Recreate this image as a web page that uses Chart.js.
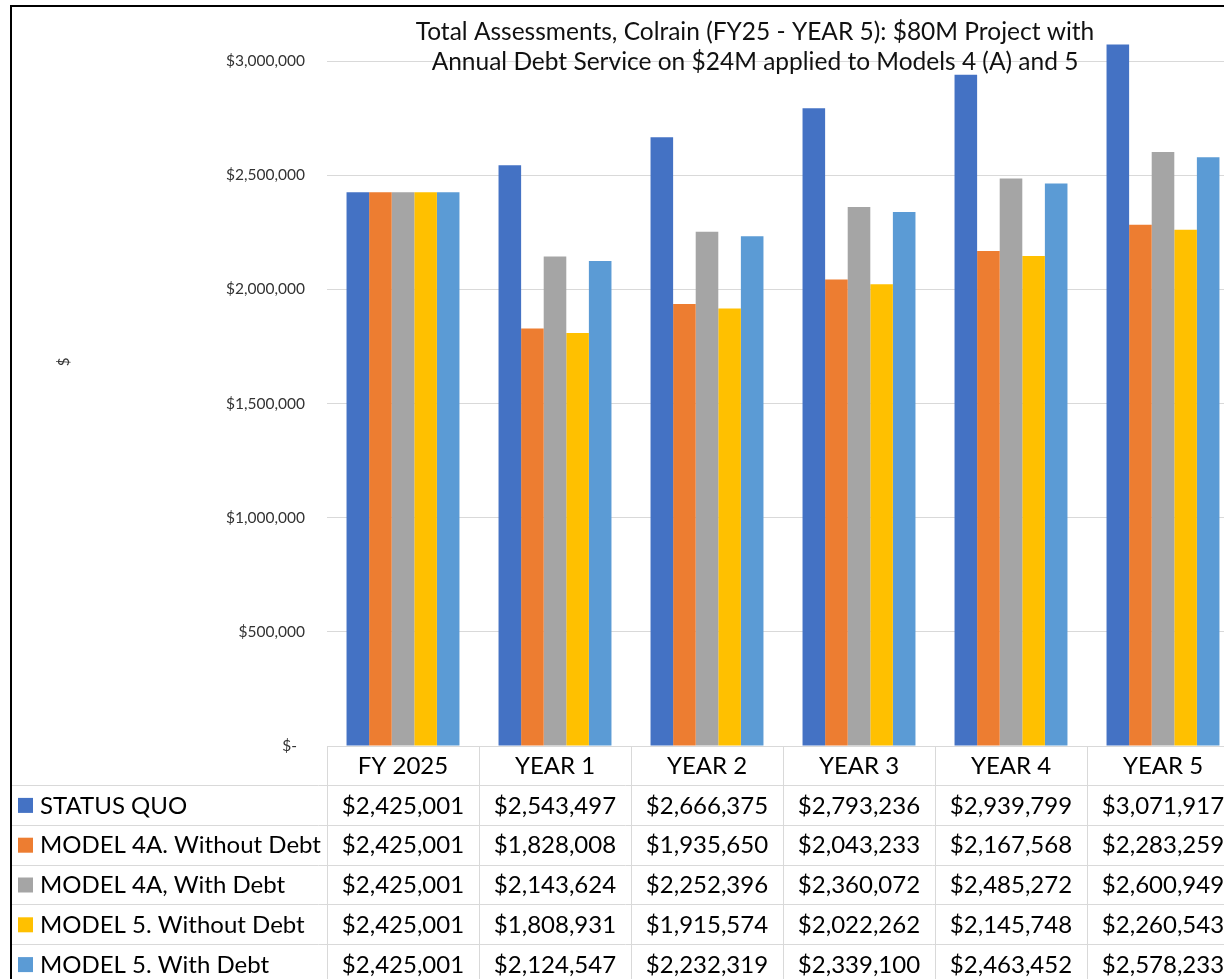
<!DOCTYPE html>
<html>
<head>
<meta charset="utf-8">
<script src="https://cdn.jsdelivr.net/npm/chart.js@4/dist/chart.umd.min.js"></script>
<style>
  html, body { margin: 0; padding: 0; background: #fff; overflow: hidden; }
  #frame { position: absolute; left: 10px; top: 5px; width: 1300px; height: 1000px;
           border-left: 2px solid #000; border-top: 2px solid #000; }
  #box { position: absolute; left: 12px; top: 7px; width: 1260px; height: 1000px; }
</style>
</head>
<body>
<div id="frame"></div>
<div id="box"><canvas id="assessChart"></canvas></div>
<script>
var categories = ['FY 2025', 'YEAR 1', 'YEAR 2', 'YEAR 3', 'YEAR 4', 'YEAR 5'];
var statusQuo      = [2425001, 2543497, 2666375, 2793236, 2939799, 3071917];
var model4aNoDebt  = [2425001, 1828008, 1935650, 2043233, 2167568, 2283259];
var model4aDebt    = [2425001, 2143624, 2252396, 2360072, 2485272, 2600949];
var model5NoDebt   = [2425001, 1808931, 1915574, 2022262, 2145748, 2260543];
var model5Debt     = [2425001, 2124547, 2232319, 2339100, 2463452, 2578233];
var seriesNames = ['STATUS QUO', 'MODEL 4A. Without Debt', 'MODEL 4A, With Debt',
                   'MODEL 5. Without Debt', 'MODEL 5. With Debt'];
var seriesColors = ['#4472C4', '#ED7D31', '#A5A5A5', '#FFC000', '#5B9BD5'];
var titleLines = ['Total Assessments, Colrain (FY25 - YEAR 5): $80M Project with',
                  'Annual Debt Service on $24M applied to Models 4 (A) and 5'];
var yAxisTitle = '$';

var FONT = 'Lato, "Open Sans", sans-serif';

function money(v) {
  return '$' + v.toLocaleString('en-US');
}

// title sits over the top of the plot, plus the rotated "$" axis title
var titlePlugin = {
  id: 'overlayTitle',
  afterDraw: function (chart) {
    var ctx = chart.ctx;
    ctx.save();
    ctx.fillStyle = '#111';
    ctx.font = '24.5px ' + FONT;
    ctx.textAlign = 'center';
    ctx.textBaseline = 'middle';
    ctx.fillText(titleLines[0], 743, 25);
    ctx.fillText(titleLines[1], 743, 55);

    ctx.translate(52, 355);
    ctx.rotate(-Math.PI / 2);
    ctx.fillStyle = '#333';
    ctx.font = '15px ' + FONT;
    ctx.fillText(yAxisTitle, 0, 0);
    ctx.restore();
  }
};

// data table under the plot: category header, then one row per series
var tablePlugin = {
  id: 'dataTable',
  afterDraw: function (chart) {
    var ctx = chart.ctx;
    var xs = chart.scales.x;
    var area = chart.chartArea;
    var n = categories.length;
    var catW = xs.width / n;
    var x0 = xs.left;
    var top = area.bottom;
    var headH = 39, rowH = 39.8;
    var right = x0 + n * catW;
    var bottom = top + headH + seriesNames.length * rowH;

    ctx.save();
    ctx.strokeStyle = '#d9d9d9';
    ctx.lineWidth = 1;
    ctx.beginPath();
    for (var i = 0; i <= n; i++) {
      var vx = Math.round(x0 + i * catW) + 0.5;
      ctx.moveTo(vx, top);
      ctx.lineTo(vx, bottom);
    }
    for (var r = 0; r <= seriesNames.length; r++) {
      var hy = Math.round(top + headH + r * rowH) + 0.5;
      ctx.moveTo(0, hy);
      ctx.lineTo(right, hy);
    }
    ctx.stroke();

    ctx.fillStyle = '#000';
    ctx.font = '24px ' + FONT;
    ctx.textBaseline = 'middle';
    ctx.textAlign = 'center';
    categories.forEach(function (c, i) {
      ctx.fillText(c, x0 + (i + 0.5) * catW, top + headH / 2 + 1);
    });

    chart.data.datasets.forEach(function (ds, s) {
      var cy = top + headH + s * rowH + rowH / 2 + 1;
      ctx.fillStyle = ds.backgroundColor;
      ctx.fillRect(6, cy - 8, 15, 15);
      ctx.fillStyle = '#000';
      ctx.textAlign = 'left';
      ctx.fillText(ds.label, 28, cy);
      ctx.textAlign = 'center';
      ds.data.forEach(function (v, i) {
        ctx.fillText(money(v), x0 + (i + 0.5) * catW, cy);
      });
    });
    ctx.restore();
  }
};

var allSeries = [statusQuo, model4aNoDebt, model4aDebt, model5NoDebt, model5Debt];

var ctx = document.getElementById('assessChart').getContext('2d');
var myChart = new Chart(ctx, {
  type: 'bar',
  data: {
    labels: categories,
    datasets: allSeries.map(function (vals, s) {
      return {
        label: seriesNames[s],
        data: vals,
        backgroundColor: seriesColors[s],
        borderWidth: 0,
        clip: false,
        categoryPercentage: 0.743,
        barPercentage: 1.0
      };
    })
  },
  options: {
    responsive: true,
    maintainAspectRatio: false,
    animation: false,
    layout: { padding: { top: 54, right: 33, bottom: 261, left: 0 } },
    plugins: {
      legend: { display: false },
      title: { display: false },
      tooltip: { enabled: false }
    },
    scales: {
      x: { display: false },
      y: {
        min: 0,
        max: 3000000,
        ticks: {
          stepSize: 500000,
          padding: 22,
          color: '#333',
          font: { family: FONT, size: 15.5 },
          callback: function (v) { return v === 0 ? '$-  ' : money(v); }
        },
        grid: { color: '#d9d9d9', lineWidth: 1, drawTicks: false },
        border: { display: false },
        afterFit: function (scale) { scale.width = 315; }
      }
    }
  },
  plugins: [titlePlugin, tablePlugin]
});
</script>
</body>
</html>
